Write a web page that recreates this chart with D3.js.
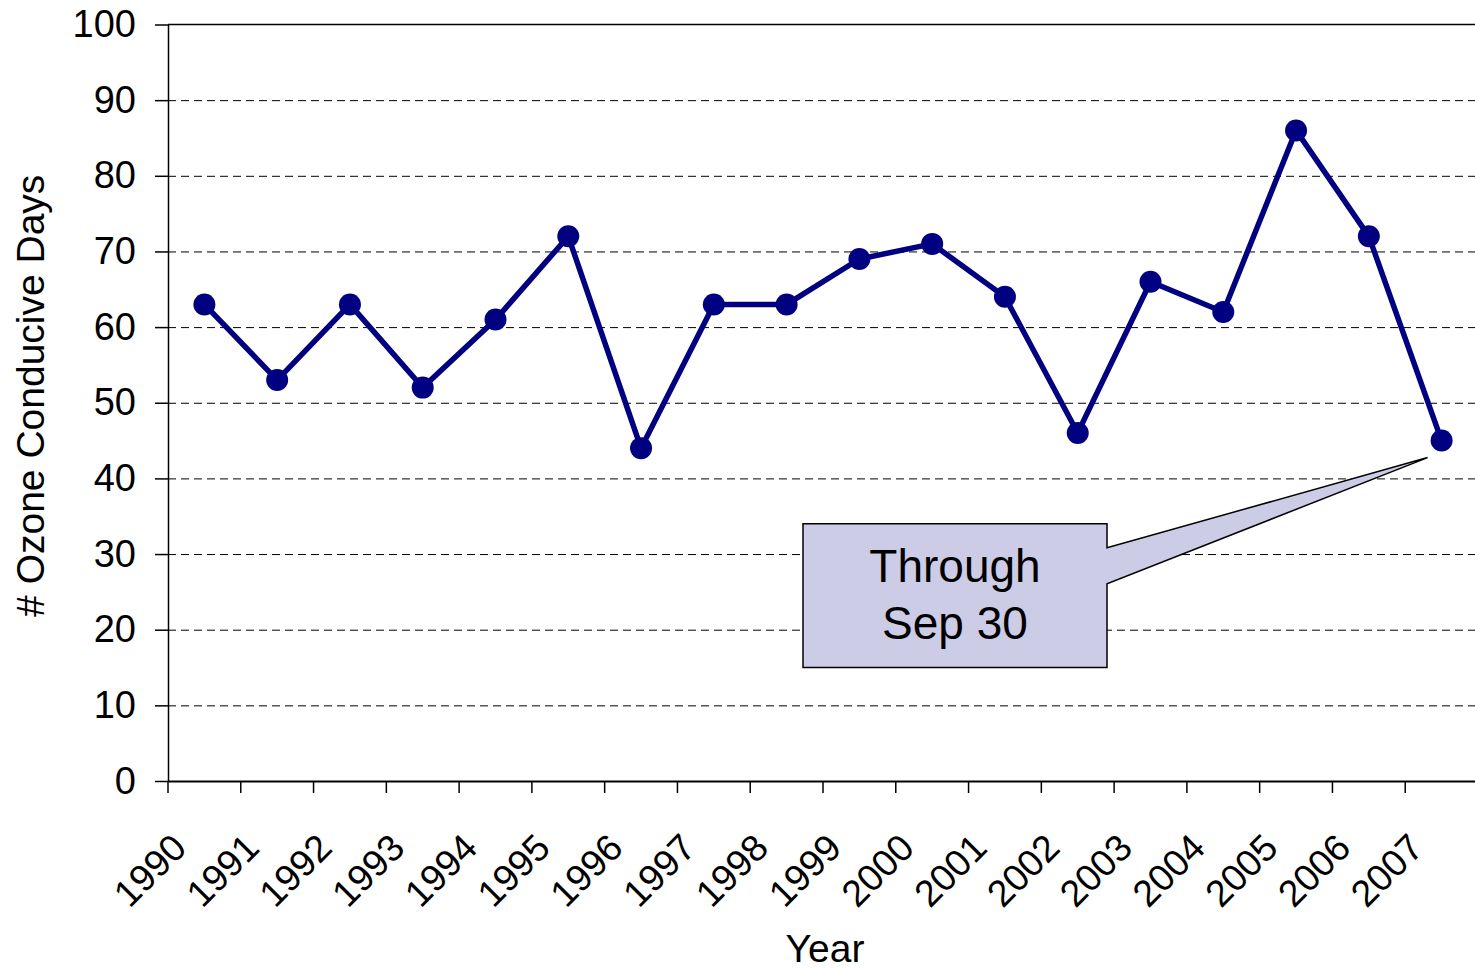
<!DOCTYPE html>
<html>
<head>
<meta charset="utf-8">
<script src="https://cdn.jsdelivr.net/npm/d3@7"></script>
<style>
	body { margin: 0; background: #fff; }
	svg { display: block; font-family: "Liberation Sans", Arial, sans-serif; }
	.axis path, .axis line { stroke: #000; }
	.grid line { stroke: #000; stroke-dasharray: 8,5; stroke-width: 1; }
	.grid path { display: none; }
</style>
</head>
<body>
<div id="chart"></div>
<script>
// chart data
var years = ["1990","1991","1992","1993","1994","1995","1996","1997","1998","1999",
	"2000","2001","2002","2003","2004","2005","2006","2007"];
var ozoneDays = [63, 53, 63, 52, 61, 72, 44, 63, 63, 69, 71, 64, 46, 66, 62, 86, 72, 45];
var yTicks = [0, 10, 20, 30, 40, 50, 60, 70, 80, 90, 100];
var noteLines = ["Through", "Sep 30"];

var margins = {top: 24.5, bottom: 189, left: 168, right: -3};
var totalW = 1475, totalH = 970;
var width = totalW - margins.left - margins.right,
	height = totalH - margins.top - margins.bottom;

var svg = d3.select("#chart").append("svg")
	.attr("width", totalW)
	.attr("height", totalH);

var g = svg.append("g")
	.attr("transform", "translate(" + margins.left + "," + margins.top + ")");

var x = d3.scaleBand().domain(years).range([0, width]);
var y = d3.scaleLinear().domain([0, 100]).range([height, 0]);

// dashed gridlines
g.append("g")
	.attr("class", "grid")
	.call(d3.axisLeft(y).tickValues(yTicks.filter(function(d) { return d > 0 && d < 100; }))
		.tickSize(-width).tickFormat(""));

// top border
g.append("line")
	.attr("x1", 0).attr("x2", width)
	.attr("y1", y(100)).attr("y2", y(100))
	.attr("stroke", "#000").attr("stroke-width", 1.5);

// y axis
var yAxis = g.append("g")
	.attr("class", "axis")
	.call(d3.axisLeft(y).tickValues(yTicks).tickSize(13).tickPadding(19).tickSizeOuter(0));
yAxis.select(".domain").attr("stroke-width", 1.5);
yAxis.selectAll("line").attr("stroke-width", 1.5);
yAxis.selectAll("text")
	.style("font-size", "38px")
	.attr("fill", "#000");

// x axis, ticks between categories
var xAxis = g.append("g")
	.attr("class", "axis")
	.attr("transform", "translate(0," + height + ")")
	.call(d3.axisBottom(x).tickSize(12).tickSizeOuter(0));
xAxis.select(".domain").attr("stroke-width", 2);
xAxis.selectAll(".tick line")
	.attr("transform", "translate(" + (-x.bandwidth() / 2) + ",0)")
	.attr("stroke", "#555")
	.attr("stroke-width", 1.5);
xAxis.selectAll(".tick text")
	.style("font-size", "37.5px")
	.attr("fill", "#000")
	.attr("text-anchor", "end")
	.attr("x", 0).attr("y", 0).attr("dy", 0)
	.attr("transform", "translate(-16,69) rotate(-45)");

// axis titles
svg.append("text")
	.attr("transform", "translate(44," + (margins.top + height / 2 - 7) + ") rotate(-90)")
	.attr("text-anchor", "middle")
	.style("font-size", "39px")
	.text("# Ozone Conducive Days");

svg.append("text")
	.attr("x", 825)
	.attr("y", 962)
	.attr("text-anchor", "middle")
	.style("font-size", "39px")
	.text("Year");

// series line and markers
var line = d3.line()
	.x(function(d, i) { return x(years[i]) + x.bandwidth() / 2; })
	.y(function(d) { return y(d); });

g.append("path")
	.datum(ozoneDays)
	.attr("fill", "none")
	.attr("stroke", "#000080")
	.attr("stroke-width", 5.5)
	.attr("stroke-linejoin", "miter")
	.attr("d", line);

g.selectAll(".dot")
	.data(ozoneDays)
	.enter().append("circle")
	.attr("class", "dot")
	.attr("cx", function(d, i) { return x(years[i]) + x.bandwidth() / 2; })
	.attr("cy", function(d) { return y(d); })
	.attr("r", 11)
	.attr("fill", "#000080");

// callout for the last year
var last = years.length - 1;
var tipX = x(years[last]) + x.bandwidth() / 2 - 14,
	tipY = y(ozoneDays[last]) + 17;
var boxL = 803 - margins.left, boxR = 1107 - margins.left,
	boxT = y(34), boxB = y(15);
var pTop = boxT + 24, pBot = boxT + 60;

var note = g.append("g");
note.append("path")
	.attr("d", "M" + boxL + "," + boxT + "L" + boxR + "," + boxT + "L" + boxR + "," + pTop +
		"L" + tipX + "," + tipY + "L" + boxR + "," + pBot + "L" + boxR + "," + boxB +
		"L" + boxL + "," + boxB + "Z")
	.attr("fill", "#CCCCE6")
	.attr("stroke", "#000")
	.attr("stroke-width", 1.5)
	.attr("stroke-linejoin", "miter");

note.selectAll("text")
	.data(noteLines)
	.enter().append("text")
	.attr("x", (boxL + boxR) / 2)
	.attr("y", function(d, i) { return boxT + 58 + i * 57; })
	.attr("text-anchor", "middle")
	.style("font-size", "46px")
	.text(function(d) { return d; });
</script>
</body>
</html>
